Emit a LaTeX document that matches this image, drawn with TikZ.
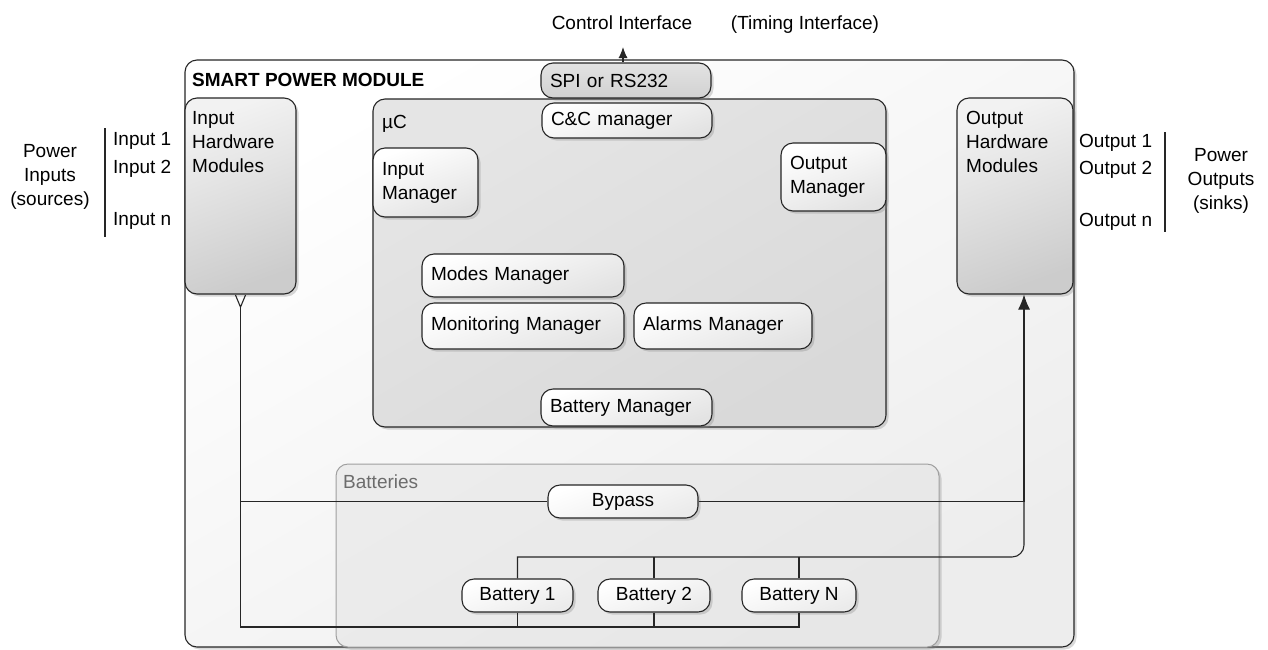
\documentclass[tikz,border=0pt]{standalone}
\usepackage{fontspec}
\setmainfont{Liberation Sans}
\usepackage{tikz}
\usetikzlibrary{shadows, arrows.meta, positioning}

\newcommand{\smfont}{\fontsize{19}{24}\selectfont}

\tikzset{
  box/.style={draw=black!85, line width=1.1pt, rounded corners=12pt,
    drop shadow={shadow xshift=2.5pt, shadow yshift=-2.5pt, opacity=.3}},
  hwbox/.style={box, top color=gray!10, bottom color=gray!40, shading angle=20},
  mgr/.style={box, top color=white, bottom color=gray!22, shading angle=20,
    inner xsep=9pt, inner ysep=0pt, align=left},
  pill/.style={box, top color=white, bottom color=gray!16, shading angle=20,
    inner sep=0pt, align=center},
  txt/.style={inner sep=0pt, align=left, font=\smfont},
  wire/.style={draw=black!85, line width=1.1pt},
}

\begin{document}
\begin{tikzpicture}[x=1pt, y=-1pt, font=\smfont]
  \useasboundingbox (0,0) rectangle (1268,649);

  % containers
  \node[box, top color=white, bottom color=gray!14, shading angle=30,
    minimum width=889pt, minimum height=587pt] (spm) at (629.5,353.5) {};
  \node[txt, anchor=base west, font=\smfont\bfseries] (spmlbl) at (192,86) {SMART POWER MODULE};

  \node[hwbox, minimum width=111pt, minimum height=196pt] (inhw) at (240.5,196) {};
  \node[txt, anchor=north west] (inhwlbl) at (192,111) {Input\\Hardware\\Modules};
  \node[hwbox, minimum width=116pt, minimum height=196pt] (outhw) at (1015,196) {};
  \node[txt, anchor=north west] (outhwlbl) at (966,111) {Output\\Hardware\\Modules};

  \node[box, top color=gray!20, bottom color=gray!30, shading angle=30,
    minimum width=513pt, minimum height=328pt] (uc) at (629.5,263) {};
  \node[txt, anchor=north west] (uclbl) at (382,115) {µC};

  % managers
  \node[mgr, top color=gray!22, bottom color=gray!36, text width=152pt, minimum height=35pt] (spi) at (626,80.5) {SPI or RS232};
  \node[mgr, text width=152pt, minimum height=35pt] (cc) at (627,120.5) {C\&C manager};
  \node[mgr, text width=87pt, minimum height=69pt] (inmgr) at (425.5,182.5) {Input\\Manager};
  \node[mgr, text width=87pt, minimum height=68pt] (outmgr) at (833.5,177) {Output\\Manager};
  \node[mgr, text width=184pt, minimum height=43pt] (modes) at (523,275.5) {Modes Manager};
  \node[mgr, text width=184pt, minimum height=46pt] (monit) at (523,326) {Monitoring Manager};
  \node[mgr, text width=160pt, minimum height=46pt] (alarms) at (723,326) {Alarms Manager};
  \node[mgr, text width=153pt, minimum height=37pt] (batmgr) at (626.5,407.5) {Battery Manager};

  % batteries
  \node[box, draw=gray!75, line width=1pt, top color=gray!15, bottom color=gray!19, shading angle=30,
    minimum width=603pt, minimum height=183pt] (batts) at (637.5,555.5) {};
  \node[txt, anchor=north west, text=gray!85!black] (battslbl) at (343,475) {Batteries};

  \coordinate (topbus) at (0,557);
  \coordinate (botbus) at (0,627);
  \coordinate (outin) at ([xshift=9pt]outhw.south);

  \node[pill, minimum width=150pt, minimum height=33pt] (bypass) at (623,501.5) {Bypass};
  \node[pill, minimum width=111pt, minimum height=33pt] (bat1) at (517.5,595.5) {Battery 1};
  \node[pill, minimum width=112pt, minimum height=33pt] (bat2) at (654,595.5) {Battery 2};
  \node[pill, minimum width=114pt, minimum height=33pt] (batN) at (799,595.5) {Battery N};

  % power paths
  \draw[wire, {Straight Barb[reversed, length=12pt, width=10pt]}-] (inhw.south) |- (batN.south |- botbus) -- (batN.south);
  \draw[wire] (bat1.south) -- (bat1.south |- botbus);
  \draw[wire] (bat2.south) -- (bat2.south |- botbus);
  \draw[wire] (inhw.south |- bypass) -- (bypass.west);
  \draw[wire, -{Latex[length=15pt, width=12pt]}] (bypass.east) -| (outin);
  \draw[wire] (bat1.north) -- (bat1.north |- topbus) [rounded corners=12pt] -- (outin |- topbus) -- (outin |- bypass);
  \draw[wire] (bat2.north) -- (bat2.north |- topbus);
  \draw[wire] (batN.north) -- (batN.north |- topbus);

  % control interface
  \coordinate (ctl) at (623,47);
  \draw[wire, -{Latex[length=11pt, width=9pt]}] (spi.north -| ctl) -- (ctl);
  \node[txt, anchor=base] (ctllbl) at (622,29) {Control Interface};
  \node[txt, anchor=base] (timlbl) at (805,29) {(Timing Interface)};

  % inputs / outputs
  \node[txt, align=center] (pwrin) at (50,177) {Power\\Inputs\\(sources)};
  \draw[wire] (105,128) -- (105,237);
  \node[txt, anchor=base west] (in1) at (113,145) {Input 1};
  \node[txt, anchor=base west] (in2) at (113,173) {Input 2};
  \node[txt, anchor=base west] (inn) at (113,225) {Input n};

  \node[txt, align=center] (pwrout) at (1221,181) {Power\\Outputs\\(sinks)};
  \draw[wire] (1165,132) -- (1165,232);
  \node[txt, anchor=base west] (out1) at (1079,147) {Output 1};
  \node[txt, anchor=base west] (out2) at (1079,174) {Output 2};
  \node[txt, anchor=base west] (outn) at (1079,226) {Output n};
\end{tikzpicture}
\end{document}
